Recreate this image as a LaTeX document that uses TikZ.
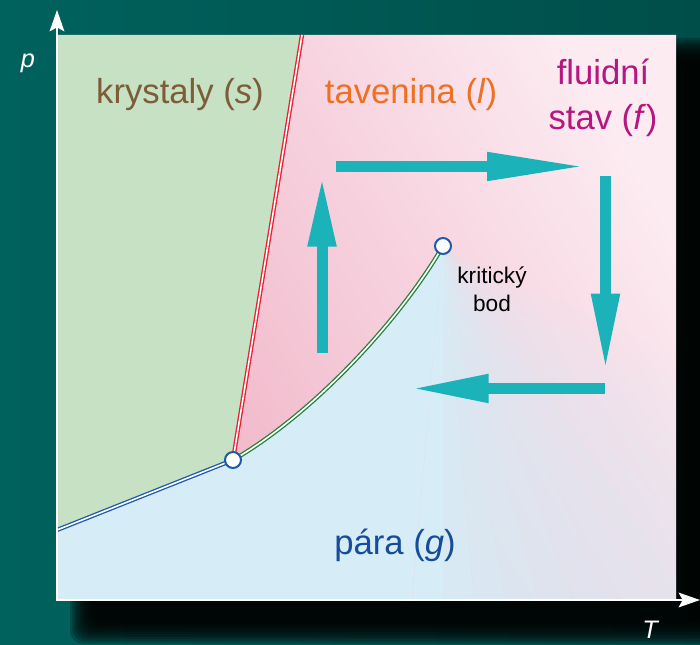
\documentclass[tikz,border=0pt]{standalone}
\usepackage{fontspec}
\setmainfont{Liberation Sans}
\usepackage{tikz}
\usetikzlibrary{arrows.meta}
\definecolor{bgteal}{RGB}{0,78,74}
\definecolor{bgtealL}{RGB}{0,98,93}
\definecolor{krfill}{RGB}{198,225,196}
\definecolor{parafill}{RGB}{214,236,246}
\definecolor{tavdeep}{RGB}{242,188,205}
\definecolor{tavlight}{RGB}{252,236,242}
\definecolor{tavline}{RGB}{232,30,50}
\definecolor{paraline}{RGB}{30,90,170}
\definecolor{kapline}{RGB}{40,130,60}
\definecolor{cyklcol}{RGB}{27,178,185}
\definecolor{krcol}{RGB}{125,92,55}
\definecolor{tavcol}{RGB}{238,112,35}
\definecolor{flcol}{RGB}{182,22,128}
\definecolor{paracol}{RGB}{22,76,156}

\begin{document}
\begin{tikzpicture}[
    x=0.75pt, y=0.75pt,
    phase/.style={font=\fontsize{26}{34}\selectfont, align=center},
    bod/.style={circle, draw=paraline, fill=white, line width=1.5pt, inner sep=0pt, minimum size=12pt},
    hranice/.style={double=white, double distance=1.2pt, line width=1pt},
    cyklus/.style={draw=cyklcol, line width=8.25pt},
    osa/.style={draw=white, line width=1.5pt, -{Stealth[length=16pt, width=11pt, inset=3pt]}},
    osatext/.style={font=\fontsize{19}{23}\selectfont\itshape, text=white}
]
    \useasboundingbox (0,0) rectangle (700,645);
    \shade[left color=bgtealL, right color=bgteal] (0,0) rectangle (700,645);
    \foreach \i in {0,...,9}
        \fill[black, opacity=0.22, rounded corners=10] (70+2.4*\i, 1+2.4*\i) rectangle (728-2.4*\i, 607-2.4*\i);

    \coordinate (o) at (57,45);
    \coordinate (tp) at (233,185);
    \coordinate (kb) at (443,399);
    \coordinate (tavtop) at (302,610);
    \coordinate (krlow) at (57,115);

    \fill[parafill] (o) rectangle (676,610);
    \shade[bottom color=tavdeep, top color=tavlight, shading angle=-60]
        (tavtop) -- (tp) .. controls (313,231) and (400,325) .. (kb) -- (412,45) -- (676,45) -- (676,610) -- cycle;
    \begin{scope}
        \clip (o) rectangle (676,610);
        \foreach \a/\op in {-25/0.07,-30/0.14,-35/0.21,-40/0.28,-45/0.35,-50/0.42,-55/0.5,-60/0.57,-65/0.64,-70/0.71,-75/0.78,-80/0.85,-85/0.92,-90/1}
            \fill[parafill, fill opacity=\op] (kb) -- +(\a:800) -- +({\a-5}:800) -- cycle;
    \end{scope}
    \fill[krfill] (57,610) -- (tavtop) -- (tp) -- (krlow) -- cycle;

    \draw[hranice, draw=tavline] (tp) -- (tavtop);
    \draw[hranice, draw=paraline] (krlow) -- (tp);
    \draw[hranice, draw=kapline] (tp) .. controls (313,231) and (400,325) .. (kb);
    \node[bod] (trojbod) at (tp) {};
    \node[bod] (kritbod) at (kb) {};

    \coordinate (up0) at (322,292);
    \coordinate (up1) at (322,469);
    \coordinate (rt0) at (336,478.5);
    \coordinate (rt1) at (587,478.5);
    \coordinate (dn0) at (605.5,469);
    \coordinate (dn1) at (605.5,274);
    \coordinate (lt0) at (605,256.5);
    \coordinate (lt1) at (410,256.5);
    \draw[cyklus, -{Triangle[length=53pt, width=19.5pt]}] (up0) -- (up1);
    \draw[cyklus, -{Triangle[length=75pt, width=19.5pt]}] (rt0) -- (rt1);
    \draw[cyklus, -{Triangle[length=58pt, width=19.5pt]}] (dn0) -- (dn1);
    \draw[cyklus, -{Triangle[length=59pt, width=19.5pt]}] (lt0) -- (lt1);

    \coordinate (ptip) at (57,635);
    \coordinate (Ttip) at (700,45);
    \draw[osa] (57,44) -- (ptip);
    \draw[osa] (56,45) -- (Ttip);
    \node[osatext] (plab) at (28,582) {p};
    \node[osatext] (Tlab) at (650,15) {T};

    \node[phase, text=krcol] (krystaly) at (180,550) {krystaly (\textit{s})};
    \node[phase, text=tavcol] (tavenina) at (411,550) {tavenina (\textit{l})};
    \node[phase, text=flcol] (fluid) at (603,547) {fluidní\\stav (\textit{f})};
    \node[phase, text=paracol] (para) at (395,100) {pára (\textit{g})};
    \node[font=\fontsize{17}{21}\selectfont, align=center] (kritlab) at (492,356) {kritický\\bod};
\end{tikzpicture}
\end{document}
